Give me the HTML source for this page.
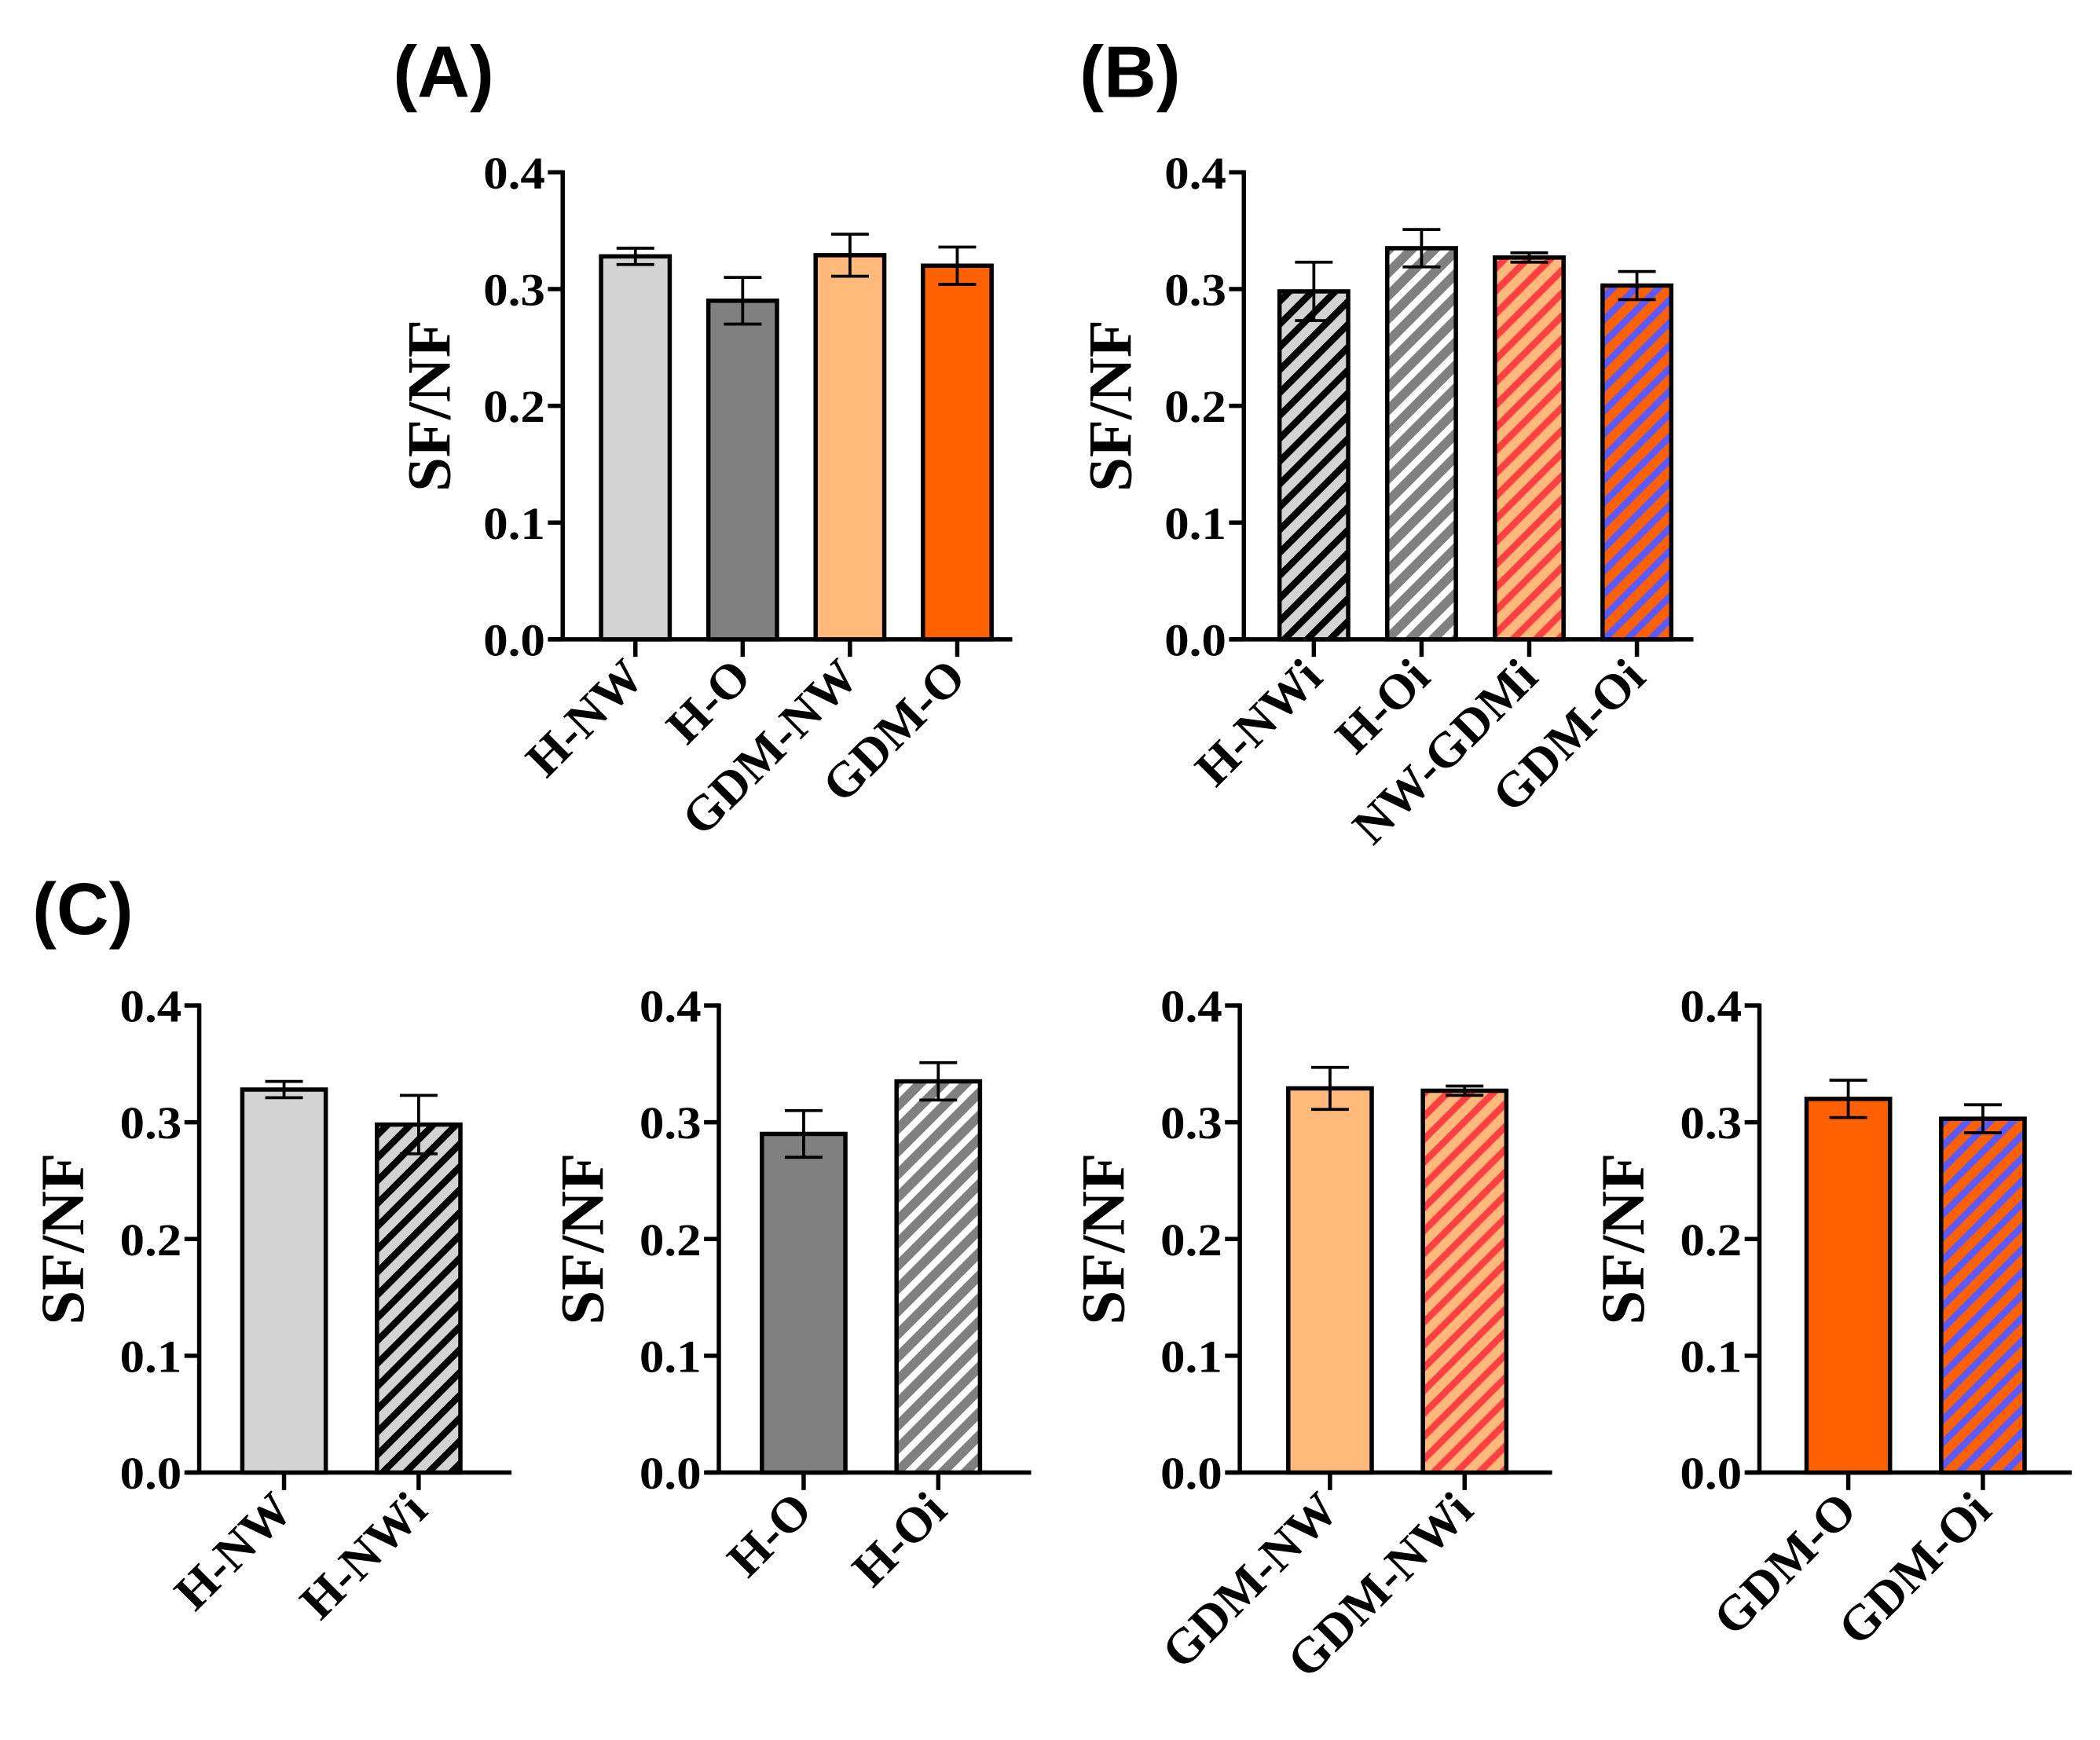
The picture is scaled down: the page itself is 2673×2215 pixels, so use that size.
<!DOCTYPE html>
<html><head><meta charset="utf-8"><style>
html,body{margin:0;padding:0;background:#fff;}
svg{display:block;}
text{font-family:"Liberation Serif",serif;font-weight:bold;fill:#000;}
.pl{font-family:"Liberation Sans",sans-serif;font-weight:bold;}
</style></head><body>
<svg id="fig" width="2673" height="2215" viewBox="0 0 1560 1292.7" preserveAspectRatio="none" xmlns="http://www.w3.org/2000/svg">
<defs>
<pattern id="p-hnwi" patternUnits="userSpaceOnUse" width="12" height="12" patternTransform="rotate(45)"><rect width="12" height="12" fill="#d3d3d3"/><rect width="5" height="12" fill="#000"/></pattern>
<pattern id="p-hoi" patternUnits="userSpaceOnUse" width="12" height="12" patternTransform="rotate(45)"><rect width="12" height="12" fill="#808080"/><rect width="5" height="12" fill="#fff"/></pattern>
<pattern id="p-nwgdmi" patternUnits="userSpaceOnUse" width="12" height="12" patternTransform="rotate(45)"><rect width="12" height="12" fill="#ffb97a"/><rect width="5" height="12" fill="#ff4040"/></pattern>
<pattern id="p-gdmoi" patternUnits="userSpaceOnUse" width="12" height="12" patternTransform="rotate(45)"><rect width="12" height="12" fill="#ff6000"/><rect width="5" height="12" fill="#5a5aff"/></pattern>
</defs>
<text class="pl" x="292" y="72" font-size="54">(A)</text>
<text class="pl" x="802" y="72" font-size="54">(B)</text>
<text class="pl" x="24" y="694" font-size="54">(C)</text>
</svg>
<script>
const yTicks = [0.0, 0.1, 0.2, 0.3, 0.4];
const yTickLabels = ["0.0", "0.1", "0.2", "0.3", "0.4"];
const catsA = ["H-NW", "H-O", "GDM-NW", "GDM-O"];
const meansA = [0.328, 0.290, 0.329, 0.320];
const errA = [0.007, 0.020, 0.018, 0.016];
const catsB = ["H-NWi", "H-Oi", "NW-GDMi", "GDM-Oi"];
const meansB = [0.298, 0.335, 0.327, 0.303];
const errB = [0.025, 0.016, 0.004, 0.012];
const catsC1 = ["H-NW", "H-NWi"];
const meansC1 = [0.328, 0.298];
const errC1 = [0.007, 0.025];
const catsC2 = ["H-O", "H-Oi"];
const meansC2 = [0.290, 0.335];
const errC2 = [0.020, 0.016];
const catsC3 = ["GDM-NW", "GDM-NWi"];
const meansC3 = [0.329, 0.327];
const errC3 = [0.018, 0.004];
const catsC4 = ["GDM-O", "GDM-Oi"];
const meansC4 = [0.320, 0.303];
const errC4 = [0.016, 0.012];

const FILL = {"H-NW":"#d3d3d3","H-O":"#808080","GDM-NW":"#ffb97a","GDM-O":"#ff6000",
  "H-NWi":"url(#p-hnwi)","H-Oi":"url(#p-hoi)","NW-GDMi":"url(#p-nwgdmi)","GDM-NWi":"url(#p-nwgdmi)","GDM-Oi":"url(#p-gdmoi)"};
const svg = document.getElementById('fig');
const NS = 'http://www.w3.org/2000/svg';
function mk(tag, attrs, parent){const e=document.createElementNS(NS,tag);for(const k in attrs)e.setAttribute(k,attrs[k]);parent.appendChild(e);return e;}

function chart(id, cats, means, errs, ax, y0, y4, span, firstOff, step, bw, titleX){
  const g = mk('g',{},svg);
  
  
  const ys = v => y0 + (y4 - y0) * (v / 0.4);
  const xs = i => ax + firstOff + i * step;
  const yax = mk('line',{x1:ax,y1:y4-1.5,x2:ax,y2:y0,stroke:'#000','stroke-width':3.2},g);
  
  
  const xax = mk('line',{x1:ax-10,y1:y0,x2:ax+span,y2:y0,stroke:'#000','stroke-width':3.2},g);
  
  
  yTicks.forEach((t,i)=>{
    mk('line',{x1:ax-11,y1:ys(t),x2:ax,y2:ys(t),stroke:'#000','stroke-width':3.2},g);
    const tx = mk('text',{x:ax-13,y:ys(t)+12,'font-size':34,'text-anchor':'end',textLength:46,lengthAdjust:'spacingAndGlyphs'},g);
    tx.textContent = yTickLabels[i];
    
    
  });
  const tt = mk('text',{x:0,y:0,'font-size':46,'text-anchor':'middle',transform:`translate(${titleX},${(y0+y4)/2}) rotate(-90)`},g);
  tt.textContent = 'SF/NF';
  
  
  cats.forEach((c,i)=>{
    const cx = xs(i);
    const top = ys(means[i]);
    const r = mk('rect',{x:cx-bw/2,y:top,width:bw,height:y0-top,fill:FILL[c],stroke:'#000','stroke-width':3.2},g);
    
    
    const hi = ys(means[i]+errs[i]), lo = ys(means[i]-errs[i]);
    const eb = mk('path',{d:`M${cx},${lo}V${hi}M${cx-14},${hi}H${cx+14}M${cx-14},${lo}H${cx+14}`,stroke:'#000','stroke-width':2.2,fill:'none'},g);
    
    
    mk('line',{x1:cx,y1:y0,x2:cx,y2:y0+13,stroke:'#000','stroke-width':3.2},g);
    const lx = cx + 8, ly = y0 + 30;
    const lt = mk('text',{x:lx,y:ly,'font-size':37,'text-anchor':'end',transform:`rotate(-45 ${lx} ${ly})`},g);
    lt.textContent = c;
    
    
  });
}
chart('chart-a', catsA, meansA, errA, 418, 475, 128, 334, 54, 79.7, 51, 334);
chart('chart-b', catsB, meansB, errB, 924, 475, 128, 334, 52, 80, 51, 840);
const cAx = [148, 534, 921, 1307];
const cTitleX = [62, 448, 835, 1221];
chart('chart-c1', catsC1, meansC1, errC1, cAx[0], 1094, 747, 232, 63, 100, 62, cTitleX[0]);
chart('chart-c2', catsC2, meansC2, errC2, cAx[1], 1094, 747, 232, 63, 100, 62, cTitleX[1]);
chart('chart-c3', catsC3, meansC3, errC3, cAx[2], 1094, 747, 232, 67, 100, 62, cTitleX[2]);
chart('chart-c4', catsC4, meansC4, errC4, cAx[3], 1094, 747, 232, 66, 100, 62, cTitleX[3]);
</script>
</body></html>
